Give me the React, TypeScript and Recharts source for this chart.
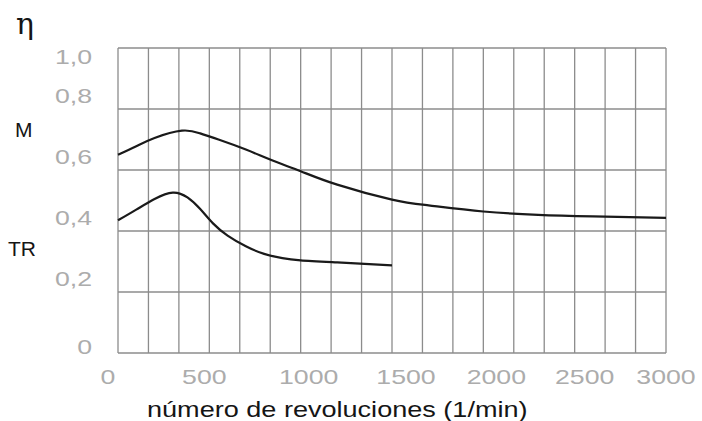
import React from "react";
import { LineChart, Line, XAxis, YAxis, CartesianGrid } from "recharts";

// curve M (upper) and TR (lower)
const mCurve = [
  { rpm: 0, eta: 0.65 },
  { rpm: 100, eta: 0.678 },
  { rpm: 200, eta: 0.705 },
  { rpm: 350, eta: 0.729 },
  { rpm: 450, eta: 0.72 },
  { rpm: 550, eta: 0.7 },
  { rpm: 700, eta: 0.667 },
  { rpm: 850, eta: 0.63 },
  { rpm: 1000, eta: 0.596 },
  { rpm: 1200, eta: 0.552 },
  { rpm: 1500, eta: 0.503 },
  { rpm: 1700, eta: 0.484 },
  { rpm: 2000, eta: 0.464 },
  { rpm: 2300, eta: 0.453 },
  { rpm: 2600, eta: 0.448 },
  { rpm: 3000, eta: 0.443 },
];

const trCurve = [
  { rpm: 0, eta: 0.435 },
  { rpm: 100, eta: 0.47 },
  { rpm: 200, eta: 0.505 },
  { rpm: 300, eta: 0.526 },
  { rpm: 380, eta: 0.51 },
  { rpm: 450, eta: 0.472 },
  { rpm: 520, eta: 0.425 },
  { rpm: 600, eta: 0.385 },
  { rpm: 700, eta: 0.35 },
  { rpm: 800, eta: 0.325 },
  { rpm: 900, eta: 0.311 },
  { rpm: 1000, eta: 0.304 },
  { rpm: 1200, eta: 0.297 },
  { rpm: 1500, eta: 0.287 },
];

const xLabels = [0, 500, 1000, 1500, 2000, 2500, 3000];
const yTicks = [0, 0.2, 0.4, 0.6, 0.8, 1.0];
const subDivisions = 3;

// grid columns: each 500 step split in three
const xGridTicks: number[] = [];
xLabels.forEach((v, i) => {
  if (i === 0) {
    xGridTicks.push(v);
    return;
  }
  const prev = xLabels[i - 1];
  for (let k = 1; k <= subDivisions; k++) {
    xGridTicks.push(prev + ((v - prev) * k) / subDivisions);
  }
});

const tickFont = "'Liberation Sans', Arial, sans-serif";
const tickColor = "#acacac";

// the scanned labels sit a little off their grid lines
const xNudge: Record<number, number> = {
  0: -10,
  500: -5,
  1000: 8,
  1500: 14,
  2000: 13,
  2500: 10,
  3000: 0,
};

const XTick = (props: any) => {
  const { x, y, payload } = props;
  const v = Math.round(payload.value);
  if (!xLabels.includes(v) || Math.abs(payload.value - v) > 0.01) return null;
  return (
    <text
      transform={`translate(${x + (xNudge[v] || 0)},${y + 23}) scale(1.27,1)`}
      textAnchor="middle"
      fontFamily={tickFont}
      fontSize={21}
      fill={tickColor}
    >
      {v}
    </text>
  );
};

const YTick = (props: any) => {
  const { x, y, payload } = props;
  const v = payload.value;
  const dy = v === 1 ? 16 : v === 0 ? 1 : -6;
  const label = v === 0 ? "0" : v.toFixed(1).replace(".", ",");
  return (
    <text
      transform={`translate(${x - 18},${y + dy}) scale(1.27,1)`}
      textAnchor="end"
      fontFamily={tickFont}
      fontSize={21}
      fill={tickColor}
    >
      {label}
    </text>
  );
};

const textDark = "#151515";

export default function App() {
  return (
    <div
      style={{
        position: "absolute",
        left: 0,
        top: 0,
        width: 702,
        height: 421,
        background: "#fff",
        fontFamily: tickFont,
      }}
    >
      <LineChart
        width={702}
        height={421}
        margin={{ top: 48, right: 36, bottom: 38, left: 0 }}
      >
        <CartesianGrid stroke="#8c8c8c" strokeWidth={1.3} />
        <XAxis
          type="number"
          dataKey="rpm"
          domain={[0, 3000]}
          ticks={xGridTicks}
          interval={0}
          height={30}
          tick={<XTick />}
          tickLine={false}
          axisLine={false}
        />
        <YAxis
          type="number"
          dataKey="eta"
          domain={[0, 1]}
          ticks={yTicks}
          interval={0}
          width={118}
          tick={<YTick />}
          tickLine={false}
          axisLine={false}
        />
        <Line
          data={mCurve}
          dataKey="eta"
          type="natural"
          stroke="#1a1a1a"
          strokeWidth={2.2}
          dot={false}
          isAnimationActive={false}
        />
        <Line
          data={trCurve}
          dataKey="eta"
          type="natural"
          stroke="#1a1a1a"
          strokeWidth={2.2}
          dot={false}
          isAnimationActive={false}
        />
      </LineChart>
      <div
        style={{
          position: "absolute",
          left: 16,
          top: 6,
          fontSize: 30,
          color: textDark,
          fontFamily: "'DejaVu Serif', serif",
        }}
      >
        η
      </div>
      <div
        style={{
          position: "absolute",
          left: 15,
          top: 118,
          fontSize: 21,
          color: textDark,
        }}
      >
        M
      </div>
      <div
        style={{
          position: "absolute",
          left: 8,
          top: 237,
          fontSize: 21,
          color: textDark,
        }}
      >
        TR
      </div>
      <div
        style={{
          position: "absolute",
          left: 147,
          top: 397,
          fontSize: 22,
          color: textDark,
          whiteSpace: "nowrap",
          transform: "scaleX(1.23)",
          transformOrigin: "left top",
        }}
      >
        número de revoluciones (1/min)
      </div>
    </div>
  );
}
